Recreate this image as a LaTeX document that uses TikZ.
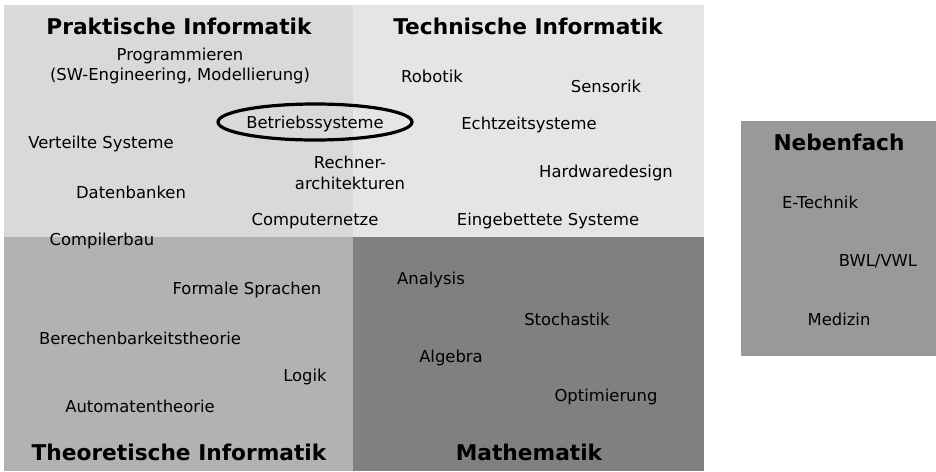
\documentclass[tikz,border=0pt]{standalone}
\usepackage{fontspec}
\setmainfont{DejaVu Sans}
\usepackage{xcolor}
\usetikzlibrary{shapes.geometric}

\definecolor{praktgray}{gray}{0.85}
\definecolor{techgray}{gray}{0.90}
\definecolor{theogray}{gray}{0.70}
\definecolor{mathgray}{gray}{0.50}
\definecolor{nebengray}{gray}{0.60}

\begin{document}
\begin{tikzpicture}[
  x=1pt,y=-1pt,
  title/.style={
    font=\fontsize{21.7}{24}\selectfont\bfseries,
    inner sep=0pt
  },
  topic/.style={
    align=center,
    font=\fontsize{16.4}{20.5}\selectfont,
    inner sep=0pt,
    yshift=-2pt
  },
  marked/.style={
    draw,
    ellipse,
    line width=3.2pt,
    minimum width=194pt,
    minimum height=36pt,
    inner sep=0pt
  }
]
\useasboundingbox (0,0) rectangle (936,471);
% fields
\fill[praktgray] (4,5) rectangle (353,237);
\fill[techgray] (353,5) rectangle (704,237);
\fill[theogray] (4,237) rectangle (353,471);
\fill[mathgray] (353,237) rectangle (704,471);
\fill[nebengray] (741,121) rectangle (936,356);
% titles
\node[title] (prakt) at (179,26) {Praktische Informatik};
\node[title] (tech) at (528,26) {Technische Informatik};
\node[title] (theo) at (179,452) {Theoretische Informatik};
\node[title] (mathe) at (529,452) {Mathematik};
\node[title] (neben) at (839,142) {Nebenfach};
% Praktische Informatik
\node[topic] (prog) at (180,64) {Programmieren\\(SW-Engineering, Modellierung)};
\node[marked] (betrieb) at (315,122) {};
\node[topic] (betriebtext) at (315,122) {Betriebssysteme};
\node[topic] (vert) at (101,142) {Verteilte Systeme};
\node[topic] (daten) at (131,190) {Datenbanken};
\node[topic] (rechner) at (350,171) {Rechner-\\architekturen};
\node[topic] (netze) at (315,219) {Computernetze};
\node[topic] (compiler) at (102,239) {Compilerbau};
% Technische Informatik
\node[topic] (robotik) at (432,74) {Robotik};
\node[topic] (sensorik) at (606,84) {Sensorik};
\node[topic] (echtzeit) at (529,123) {Echtzeitsysteme};
\node[topic] (hardware) at (606,171) {Hardwaredesign};
\node[topic] (eingebettet) at (548,219) {Eingebettete Systeme};
% Theoretische Informatik
\node[topic] (formal) at (247,288) {Formale Sprachen};
\node[topic] (berechen) at (140,336) {Berechenbarkeitstheorie};
\node[topic] (logik) at (305,375) {Logik};
\node[topic] (automaten) at (140,404) {Automatentheorie};
% Mathematik
\node[topic] (analysis) at (431,278) {Analysis};
\node[topic] (stochastik) at (567,317) {Stochastik};
\node[topic] (algebra) at (451,356) {Algebra};
\node[topic] (optimierung) at (606,395) {Optimierung};
% Nebenfach
\node[topic] (etechnik) at (820,200) {E-Technik};
\node[topic] (bwl) at (878,259) {BWL/VWL};
\node[topic] (medizin) at (839,317) {Medizin};
\end{tikzpicture}
\end{document}
